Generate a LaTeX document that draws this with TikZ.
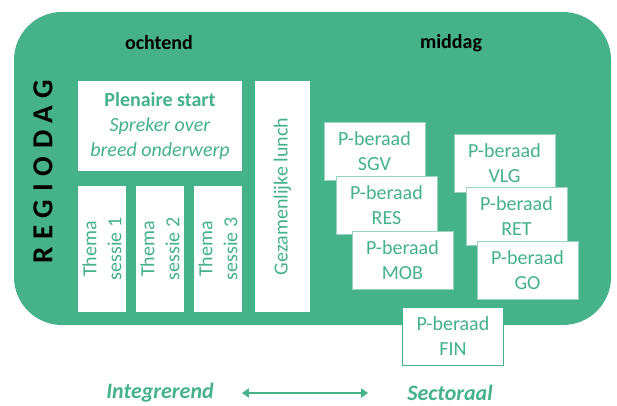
\documentclass[tikz,border=0pt]{standalone}
\usepackage{fontspec}
\setmainfont{Carlito}
\usetikzlibrary{arrows.meta}
\definecolor{rdgreen}{RGB}{69,178,137}

\begin{document}
\begin{tikzpicture}[x=1pt,y=-1pt,
	deel/.style={fill=white, text=rdgreen, align=center, inner sep=0pt, font=\fontsize{20}{25}\selectfont},
	sessie/.style={deel, rotate=90, minimum width=126pt, minimum height=48pt},
	overleg/.style={deel, draw=rdgreen!55, line width=0.7pt, minimum width=101pt, minimum height=58pt},
	kop/.style={font=\fontsize{20}{24}\selectfont\bfseries},
	as/.style={text=rdgreen, inner sep=0pt, font=\fontsize{22}{26}\selectfont\bfseries\itshape}]
\useasboundingbox (0,0) rectangle (617,405);
\fill[rdgreen, rounded corners=48pt] (14,12) rectangle (611,325);

\node[kop] (ochtend) at (159,43) {ochtend};
\node[kop] (middag) at (451,43) {middag};
\node[rotate=90, font=\fontsize{29}{30}\selectfont\bfseries\addfontfeature{LetterSpace=27}] (regiodag) at (43,172) {REGIODAG};

\node[deel, minimum width=164pt, minimum height=90pt] (plenair) at (160,126)
	{\textbf{Plenaire start}\\ \textit{Spreker over}\\ \textit{breed onderwerp}};
\node[sessie] (thema1) at (102,249) {Thema\\ sessie 1};
\node[sessie] (thema2) at (160,249) {Thema\\ sessie 2};
\node[sessie] (thema3) at (218,249) {Thema\\ sessie 3};
\node[deel, rotate=90, minimum width=231pt, minimum height=55pt] (lunch) at (282.5,196.5) {Gezamenlijke lunch};

\node[overleg] (sgv) at (374.5,151) {P-beraad\\ SGV};
\node[overleg] (res) at (386.5,205) {P-beraad\\ RES};
\node[overleg] (mob) at (402.5,260) {P-beraad\\ MOB};
\node[overleg] (vlg) at (504.5,163.5) {P-beraad\\ VLG};
\node[overleg] (ret) at (516.5,216) {P-beraad\\ RET};
\node[overleg] (go) at (527.5,270) {P-beraad\\ GO};
\node[overleg, draw=rdgreen] (fin) at (453,336.5) {P-beraad\\ FIN};

\node[as] (integ) at (160,393) {Integrerend};
\node[as] (sect) at (450,393) {Sectoraal};
\draw[rdgreen, line width=2.5pt, {Triangle[length=7pt,width=9pt]}-{Triangle[length=7pt,width=9pt]},
	shorten <=28pt, shorten >=39pt] (integ) -- (sect);
\end{tikzpicture}
\end{document}
